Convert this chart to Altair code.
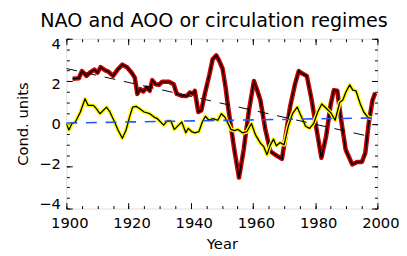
import altair as alt
import pandas as pd

# ---------------- data ----------------
red_years = [1902, 1904, 1905, 1906.5, 1907.5, 1909, 1910, 1911, 1912.5, 1913.5,
             1915, 1916.5, 1918, 1919.5, 1921, 1922, 1922.8, 1923.7, 1924.7, 1925.8,
             1926.8, 1927.6, 1928.7, 1929.8, 1930.8, 1933, 1934.5, 1935.5, 1937, 1938.7,
             1939.7, 1940.7, 1941.3, 1942.4, 1943.4, 1944.5, 1946, 1947, 1948.2, 1949.2,
             1950.2, 1951.2, 1952, 1954, 1955.5, 1957, 1958.7, 1960.3, 1961.4, 1962.4,
             1964, 1965.6, 1967.1, 1969.3, 1970.3, 1971.9, 1973.5, 1974.7, 1976, 1977.3,
             1978.7, 1980.3, 1982, 1983.5, 1985, 1986, 1987.1, 1988.2, 1989.8, 1991.9,
             1993.5, 1995, 1996.1, 1997.2, 1998.4, 1999.3]
red_vals = [2.12, 2.14, 2.48, 2.25, 2.40, 2.55, 2.40, 2.66, 2.51, 2.45,
            2.25, 2.55, 2.78, 2.66, 2.40, 2.17, 1.40, 1.63, 1.52, 1.70,
            1.55, 2.05, 1.86, 1.83, 1.98, 1.98, 1.86, 1.40, 1.32, 1.30,
            1.47, 1.40, 1.55, 0.55, 0.63, 1.40, 2.32, 3.02, 3.22, 2.94,
            2.60, 1.70, 0.78, -1.23, -2.54, -1.23, 0.63, 2.01, 1.55, 1.09,
            -0.30, -1.30, -1.46, -1.66, -0.76, 0.78, 1.86, 2.48, 2.35, 2.25,
            1.24, -0.15, -1.61, -0.61, 0.93, 1.58, 1.55, 0.31, -1.23, -1.92,
            -1.81, -1.81, -1.38, 0.01, 1.09, 1.45]

yel_years = [1900, 1900.8, 1901.8, 1902.9, 1904.5, 1906, 1907, 1908.7, 1909.7, 1910.8,
             1912.9, 1914, 1915.5, 1916.6, 1918, 1919.2, 1920.3, 1921.3, 1922.4, 1923.6,
             1925, 1926.8, 1928.2, 1929.2, 1930.3, 1931.3, 1932.4, 1933.6, 1934.7, 1936.1,
             1937.1, 1938.4, 1939.2, 1940.3, 1941.3, 1942.6, 1943.7, 1944.7, 1945.8, 1947.1,
             1948.7, 1949.8, 1951, 1952.9, 1954, 1955.2, 1956.6, 1958, 1959.5, 1960.8,
             1962.4, 1963.4, 1964.5, 1965.6, 1966.6, 1967.5, 1968.7, 1970, 1971.3, 1972.7,
             1974.2, 1975.6, 1976.9, 1978.2, 1979.5, 1980.8, 1982.1, 1983.7, 1985.1, 1986.4,
             1987.9, 1988.9, 1989.8, 1991.1, 1992.1, 1993.1, 1994.5, 1995.6, 1996.9, 1998]
yel_vals = [0.0, -0.30, 0.01, 0.08, 0.55, 1.17, 0.86, 0.86, 0.70, 0.47,
            0.78, 0.55, 0.08, -0.30, -0.69, -0.30, 0.31, 0.78, 0.82, 0.70,
            0.55, 0.47, 0.31, 0.24, 0.08, -0.07, 0.13, 0.13, -0.27, -0.07,
            0.08, -0.43, -0.22, -0.38, -0.43, -0.38, 0.08, 0.35, 0.16, 0.24,
            0.16, 0.47, 0.30, -0.27, -0.33, -0.27, -0.43, -0.38, 0.01, -0.53,
            -0.92, -1.07, -1.46, -1.00, -0.73, -1.04, -0.89, -1.00, -0.15, 0.47,
            0.78, 0.31, -0.12, -0.22, 0.01, 0.55, 0.93, 0.70, 0.50, 0.16,
            1.01, 1.12, 1.47, 1.83, 1.58, 1.55, 0.93, 0.55, 0.31, 0.24]

trend_years = [1900, 1998]
black_trend = [2.60, -0.62]
blue_trend = [0.03, 0.27]

x_major = [1900, 1920, 1940, 1960, 1980, 2000]
x_minor = [1900, 1905, 1910, 1915, 1920, 1925, 1930, 1935, 1940, 1945, 1950,
           1955, 1960, 1965, 1970, 1975, 1980, 1985, 1990, 1995, 2000]
y_major = [-4, -2, 0, 2, 4]
y_minor = [-4, -3.5, -3, -2.5, -2, -1.5, -1, -0.5, 0, 0.5, 1, 1.5, 2, 2.5, 3, 3.5, 4]

TITLE = "NAO and AOO or circulation regimes"

# ---------------- chart ----------------
W, H = 317, 173
FONT = "DejaVu Sans"

xs = alt.Scale(domain=[1900, 2000], nice=False, zero=False)
ys = alt.Scale(domain=[-4, 4], nice=False, zero=False)

x_axis = alt.Axis(values=x_major, format="d", ticks=False, domain=False, grid=False,
                  labelFontSize=15, labelFont=FONT, labelColor="black", labelPadding=7,
                  labelOffset=3, labelFlush=False, title="Year", titleFontSize=15,
                  titleFont=FONT, titleFontWeight="normal", titleColor="black",
                  titleX=W / 2, titleY=41, titleAlign="center", titleBaseline="alphabetic")
y_axis = alt.Axis(values=y_major, ticks=False, domain=False, grid=False,
                  labelFontSize=15, labelFont=FONT, labelColor="black", labelPadding=6,
                  labelOffset=alt.ExprRef("datum.value * 1.35"),
                  labelFlush=False, title="Cond. units", titleFontSize=15, titleFont=FONT,
                  titleFontWeight="normal", titleColor="black", titleAngle=-90,
                  titleX=-45, titleY=H / 2, titleAlign="center", titleBaseline="middle")

red_df = pd.DataFrame({"year": red_years, "v": red_vals})
yel_df = pd.DataFrame({"year": yel_years, "v": yel_vals})
blk_df = pd.DataFrame({"year": trend_years, "v": black_trend})
blu_df = pd.DataFrame({"year": trend_years, "v": blue_trend})


def line(df, color, width, dash=None):
    kw = dict(color=color, strokeWidth=width, strokeJoin="round", clip=True)
    if dash is not None:
        kw["strokeDash"] = dash
    return alt.Chart(df).mark_line(**kw).encode(
        x=alt.X("year:Q", scale=xs, axis=x_axis),
        y=alt.Y("v:Q", scale=ys, axis=y_axis),
    )


main = alt.layer(
    line(red_df, "#c80000", 4.6),
    line(red_df, "#000000", 1.5),
    line(yel_df, "#ffff00", 4.0),
    line(yel_df, "#000000", 1.3),
    line(blk_df, "#000000", 1.0, [11, 9]),
    line(blu_df, "#2255ff", 1.6, [11, 9]),
)

tick_df = pd.DataFrame({"year": [1950], "v": [0]})


def xticks(values, size, orient):
    return alt.Chart(tick_df).mark_point(opacity=0).encode(
        x=alt.X("year:Q", scale=xs,
                axis=alt.Axis(orient=orient, values=values, offset=-H, tickSize=size,
                              tickColor="black", tickWidth=1, labels=False,
                              domain=False, grid=False, title=None)))


def yticks(values, size, orient):
    return alt.Chart(tick_df).mark_point(opacity=0).encode(
        y=alt.Y("v:Q", scale=ys,
                axis=alt.Axis(orient=orient, values=values, offset=-W, tickSize=size,
                              tickColor="black", tickWidth=1, labels=False,
                              domain=False, grid=False, title=None)))


chart = alt.layer(
    main,
    xticks(x_major, 6, "top"),
    xticks(x_minor, 3, "top"),
    xticks(x_major, 6, "bottom"),
    xticks(x_minor, 3, "bottom"),
    yticks(y_major, 6, "right"),
    yticks(y_minor, 3, "right"),
    yticks(y_major, 6, "left"),
    yticks(y_minor, 3, "left"),
).resolve_scale(x="independent", y="independent").properties(
    width=W, height=H,
    title=alt.TitleParams(TITLE, fontSize=19.5, font=FONT, fontWeight="normal",
                          color="black", anchor="middle", offset=6, dx=-8),
    autosize=alt.AutoSizeParams(type="none"),
    padding={"left": 59.5, "top": 29, "right": 22, "bottom": 46},
).configure_view(stroke="black", strokeWidth=1.3).configure(background="white")

chart.save("out.html", embed_options={"renderer": "svg", "actions": False})
